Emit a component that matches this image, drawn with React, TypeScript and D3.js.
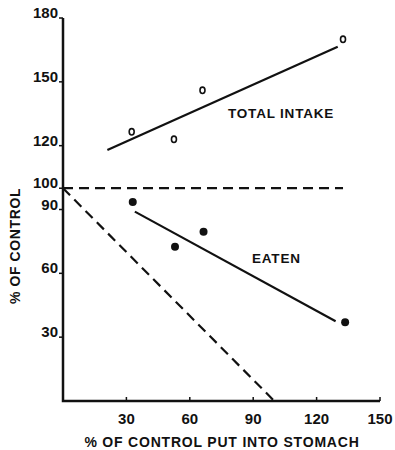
import React, { useEffect, useRef } from 'react';
import * as d3 from 'd3';

// % of control put into stomach (x) and measured response (y)
const intakeX = [32.5, 52.5, 66, 132.5];
const intakeY = [126.5, 123, 146, 170];
const intakeFit = [[21, 118], [130, 166.5]];

const eatenX = [33, 53, 66.5, 133.5];
const eatenY = [93.5, 72.5, 79.5, 37];
const eatenFit = [[34, 89], [129, 37.5]];

const controlLine = [[0, 100], [132.5, 100]];
const expectedLine = [[0, 100], [100, 0]];

const xTicks = [30, 60, 90, 120, 150];
const yTicks = [30, 60, 90, 100, 120, 150, 180];

const App = () => {
  const ref = useRef<SVGSVGElement>(null);

  useEffect(() => {
    if (!ref.current) return;
    const svg = d3.select(ref.current);
    svg.selectAll('*').remove();

    const x = d3.scaleLinear().domain([0, 150]).range([63, 380]);
    const y = d3.scaleLinear().domain([0, 180]).range([401, 18]);
    const font = 'Liberation Sans, Arial, sans-serif';
    const ink = '#111';

    const line = d3.line<number[]>().x(d => x(d[0])).y(d => y(d[1]));

    // axes
    svg.append('path')
      .attr('d', `M${x(0)},${y(180)}V${y(0)}H${x(150)}`)
      .attr('fill', 'none').attr('stroke', ink).attr('stroke-width', 2.5);

    svg.selectAll('.xt').data([0, ...xTicks]).enter().append('line')
      .attr('x1', d => x(d)).attr('x2', d => x(d))
      .attr('y1', y(0)).attr('y2', y(0) - 4)
      .attr('stroke', ink).attr('stroke-width', 1.5);

    svg.selectAll('.xl').data(xTicks).enter().append('text')
      .attr('x', d => x(d)).attr('y', y(0) + 23)
      .attr('text-anchor', 'middle')
      .attr('font-family', font).attr('font-size', 15).attr('font-weight', 'bold')
      .attr('fill', ink).text(d => d);

    svg.selectAll('.yt').data(yTicks).enter().append('line')
      .attr('x1', x(0) - 4).attr('x2', x(0))
      .attr('y1', d => y(d)).attr('y2', d => y(d))
      .attr('stroke', ink).attr('stroke-width', 1.5);

    svg.selectAll('.yl').data(yTicks).enter().append('text')
      .attr('x', x(0) - 5).attr('y', d => y(d))
      .attr('text-anchor', 'end')
      .attr('font-family', font).attr('font-size', 15).attr('font-weight', 'bold')
      .attr('fill', ink).text(d => d);

    // axis titles
    svg.append('text')
      .attr('x', 222).attr('y', 447)
      .attr('text-anchor', 'middle')
      .attr('font-family', font).attr('font-size', 14).attr('font-weight', 'bold')
      .attr('letter-spacing', 0.8)
      .attr('fill', ink).text('% OF CONTROL PUT INTO STOMACH');

    svg.append('text')
      .attr('transform', 'translate(20,246) rotate(-90)')
      .attr('text-anchor', 'middle')
      .attr('font-family', font).attr('font-size', 14).attr('font-weight', 'bold')
      .attr('letter-spacing', 0.6)
      .attr('fill', ink).text('% OF CONTROL');

    // reference lines
    svg.append('path').attr('d', line(controlLine))
      .attr('fill', 'none').attr('stroke', ink).attr('stroke-width', 2.2)
      .attr('stroke-dasharray', '10,6');
    svg.append('path').attr('d', line(expectedLine))
      .attr('fill', 'none').attr('stroke', ink).attr('stroke-width', 2.2)
      .attr('stroke-dasharray', '10,6');

    // fitted lines
    svg.append('path').attr('d', line(intakeFit))
      .attr('fill', 'none').attr('stroke', ink).attr('stroke-width', 2.2);
    svg.append('path').attr('d', line(eatenFit))
      .attr('fill', 'none').attr('stroke', ink).attr('stroke-width', 2.2);

    // points
    svg.selectAll('.open').data(intakeX).enter().append('ellipse')
      .attr('cx', d => x(d)).attr('cy', (d, i) => y(intakeY[i]))
      .attr('rx', 2.5).attr('ry', 3.2)
      .attr('fill', '#fff').attr('stroke', ink).attr('stroke-width', 1.6);

    svg.selectAll('.filled').data(eatenX).enter().append('circle')
      .attr('cx', d => x(d)).attr('cy', (d, i) => y(eatenY[i]))
      .attr('r', 4).attr('fill', ink);

    // series labels
    svg.append('text')
      .attr('x', 228).attr('y', 118)
      .attr('font-family', font).attr('font-size', 13.5).attr('font-weight', 'bold')
      .attr('letter-spacing', 0.8)
      .attr('fill', ink).text('TOTAL INTAKE');
    svg.append('text')
      .attr('x', 252).attr('y', 263)
      .attr('font-family', font).attr('font-size', 13.5).attr('font-weight', 'bold')
      .attr('letter-spacing', 0.8)
      .attr('fill', ink).text('EATEN');
  }, []);

  return (
    <svg ref={ref} width={395} height={450}
      style={{ position: 'absolute', left: 0, top: 0, background: '#fff' }} />
  );
};

export default App;
